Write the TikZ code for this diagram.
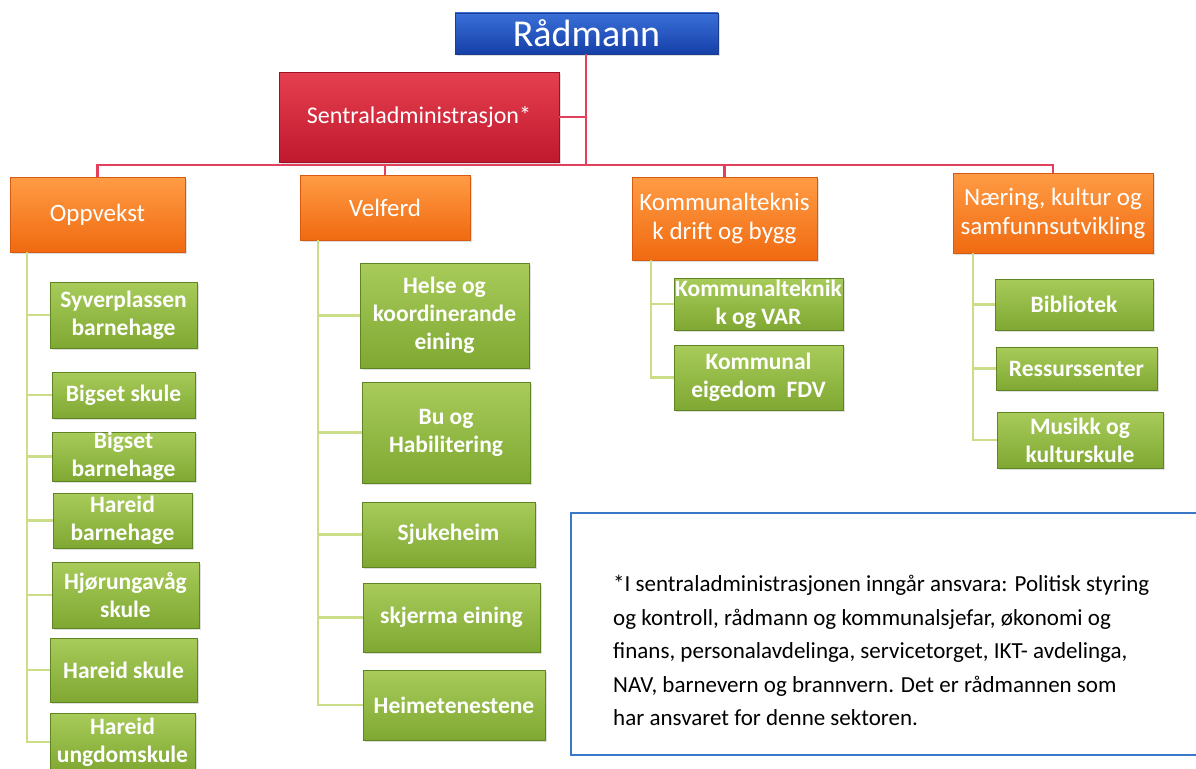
\documentclass[tikz,border=0pt]{standalone}
\usepackage{fontspec}
\setmainfont{Carlito}
\usetikzlibrary{shadows}
\definecolor{blueT}{HTML}{3A6FD8}
\definecolor{blueB}{HTML}{1540A8}
\definecolor{blueD}{HTML}{1A3C90}
\definecolor{redT}{HTML}{E5404F}
\definecolor{redB}{HTML}{C0182E}
\definecolor{redD}{HTML}{A01025}
\definecolor{orT}{HTML}{FF9C45}
\definecolor{orB}{HTML}{F06A10}
\definecolor{orD}{HTML}{D85A10}
\definecolor{grT}{HTML}{A8CB5A}
\definecolor{grB}{HTML}{7FA832}
\definecolor{grD}{HTML}{5E8424}
\definecolor{redline}{HTML}{E2405C}
\definecolor{greenline}{HTML}{CCDD88}
\definecolor{noteblue}{HTML}{3A78C8}
\newcommand\bx[7]{\node[#6, minimum width={(#4-#2)*1pt}, minimum height={(#5-#3)*1pt}] (#1) at ({(#2+#4)/2},{(#3+#5)/2}) {#7};}
\tikzset{
  box/.style={rectangle, inner sep=0pt, align=center, text=white, line width=0.8pt,
    drop shadow={opacity=0.25, shadow xshift=2pt, shadow yshift=-2pt}},
  topbox/.style={box, top color=blueT, bottom color=blueB, draw=blueD, font=\fontsize{38}{42}\selectfont},
  centbox/.style={box, top color=redT, bottom color=redB, draw=redD, font=\fontsize{24}{28}\selectfont},
  secbox/.style={box, top color=orT, bottom color=orB, draw=orD, font=\fontsize{25}{29}\selectfont},
  unitbox/.style={box, top color=grT, bottom color=grB, draw=grD, font=\bfseries\fontsize{23.5}{28}\selectfont},
  rline/.style={draw=redline, line width=2.8pt},
  gline/.style={draw=greenline, line width=2.5pt},
  notebox/.style={draw=noteblue, line width=1.5pt, fill=white},
  notetext/.style={inner sep=0pt, align=left, anchor=north west, font=\fontsize{23}{33.5}\selectfont}
}
\begin{document}
\begin{tikzpicture}[x=1pt,y=-1pt]
\clip (0,0) rectangle (1196,768);
\fill[white] (0,0) rectangle (1196,768);

% top level
\bx{rad}{455}{13}{718}{54}{topbox}{Rådmann}
\bx{sent}{279}{72}{559}{162}{centbox}{Sentraladministrasjon*}

% sectors
\bx{opp}{10}{177}{185}{252}{secbox}{Oppvekst}
\bx{vel}{300}{175}{470}{240}{secbox}{Velferd}
\bx{kom}{632}{177}{817}{260}{secbox}{Kommunalteknis\\k drift og bygg}
\bx{nae}{953}{173}{1153}{253}{secbox}{Næring, kultur og\\samfunnsutvikling}

% red connectors
\coordinate (bus) at (586,165);
\draw[rline] (rad.south -| bus) -- (bus);
\draw[rline] (sent.east) -- (sent.east -| bus);
\draw[rline] (opp.north) -- (opp.north |- bus) -- (nae.north |- bus) -- (nae.north);
\draw[rline] (vel.north) -- (vel.north |- bus);
\draw[rline] (kom.north) -- (kom.north |- bus);

% Oppvekst units
\bx{o1}{50}{282}{197}{348}{unitbox}{Syverplassen\\barnehage}
\bx{o2}{52}{372}{195}{418}{unitbox}{Bigset skule}
\bx{o3}{52}{432}{195}{481}{unitbox}{Bigset\\barnehage}
\bx{o4}{53}{493}{192}{548}{unitbox}{Hareid\\barnehage}
\bx{o5}{52}{562}{199}{628}{unitbox}{Hjørungavåg\\skule}
\bx{o6}{50}{638}{197}{702}{unitbox}{Hareid skule}
\bx{o7}{50}{713}{195}{771}{unitbox}{Hareid\\ungdomskule}

% Velferd units
\bx{v1}{360}{263}{529}{368}{unitbox}{Helse og\\koordinerande\\eining}
\bx{v2}{362}{382}{530}{483}{unitbox}{Bu og\\Habilitering}
\bx{v3}{362}{502}{535}{567}{unitbox}{Sjukeheim}
\bx{v4}{363}{583}{540}{652}{unitbox}{skjerma eining}
\bx{v5}{363}{670}{545}{740}{unitbox}{Heimetenestene}

% Kommunalteknisk units
\bx{k1}{674}{278}{843}{330}{unitbox}{Kommunalteknik\\k og VAR}
\bx{k2}{674}{345}{843}{410}{unitbox}{Kommunal\\eigedom~~FDV}

% Naering units
\bx{n1}{995}{279}{1153}{330}{unitbox}{Bibliotek}
\bx{n2}{996}{347}{1157}{390}{unitbox}{Ressurssenter}
\bx{n3}{997}{412}{1163}{468}{unitbox}{Musikk og\\kulturskule}

% green connectors
\coordinate (ot) at (27,252);
\coordinate (vt) at (318,240);
\coordinate (kt) at (651,260);
\coordinate (nt) at (973,253);
\foreach \c in {o1,o2,o3,o4,o5,o6,o7} \draw[gline] (ot) |- (\c.west);
\foreach \c in {v1,v2,v3,v4,v5} \draw[gline] (vt) |- (\c.west);
\foreach \c in {k1,k2} \draw[gline] (kt) |- (\c.west);
\foreach \c in {n1,n2,n3} \draw[gline] (nt) |- (\c.west);

% note
\draw[notebox] (571,513) rectangle (1200,755);
\node[notetext] (note) at (613,575) {*I sentraladministrasjonen inngår ansvara: Politisk styring\\og kontroll, rådmann og kommunalsjefar, økonomi og\\finans, personalavdelinga, servicetorget, IKT- avdelinga,\\NAV, barnevern og brannvern. Det er rådmannen som\\har ansvaret for denne sektoren.};
\end{tikzpicture}
\end{document}
